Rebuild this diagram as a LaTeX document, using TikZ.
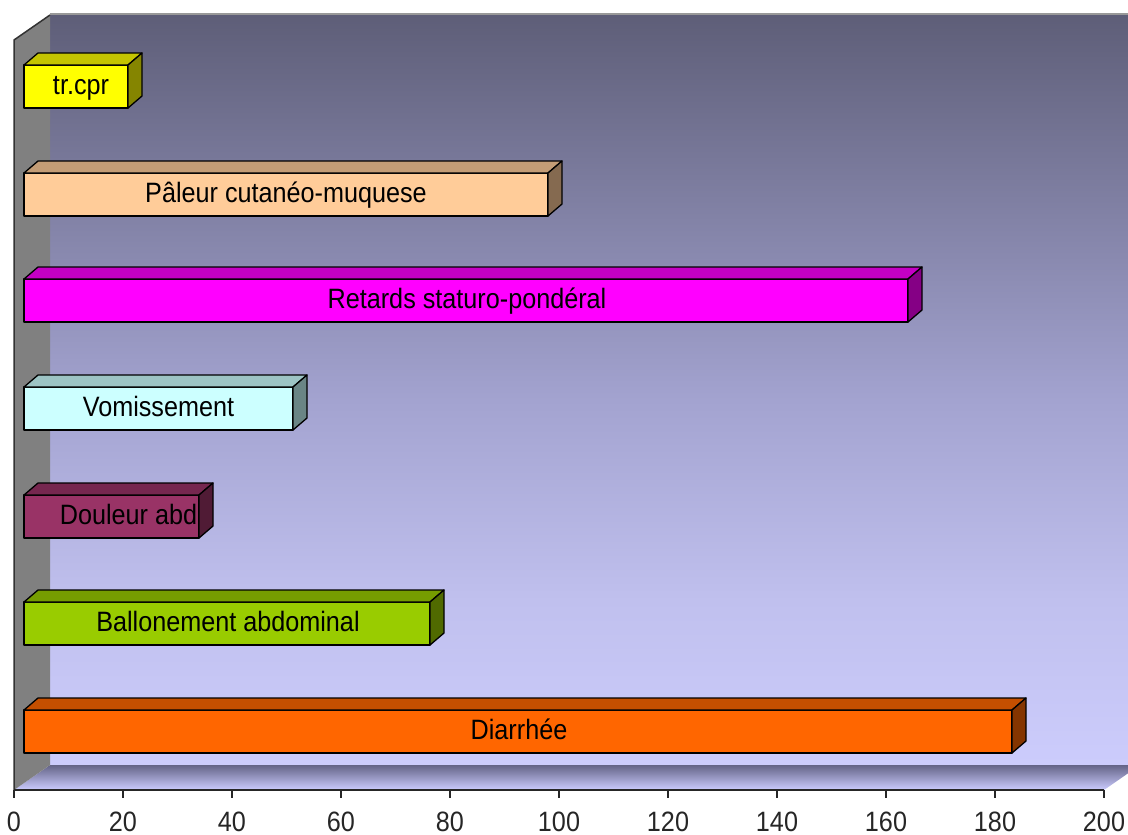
\documentclass[tikz,border=0pt]{standalone}
\usepackage{fontspec}
\setmainfont{Liberation Sans}
\newfontfamily\chartfont[FakeStretch=0.9]{Liberation Sans}
\definecolor{wallTop}{RGB}{94,94,120}
\definecolor{wallA}{RGB}{163,163,208}
\definecolor{wallB}{RGB}{192,192,238}
\definecolor{wallBot}{RGB}{204,204,252}
\definecolor{floorTop}{RGB}{100,100,135}
\definecolor{floorMid}{RGB}{176,176,224}
\definecolor{floorBot}{RGB}{204,204,255}
\definecolor{sideWall}{RGB}{128,128,128}
\definecolor{cTr}{RGB}{255,255,0}
\definecolor{cPal}{RGB}{255,204,153}
\definecolor{cRet}{RGB}{255,0,255}
\definecolor{cVom}{RGB}{204,255,255}
\definecolor{cDou}{RGB}{153,51,102}
\definecolor{cBal}{RGB}{153,204,0}
\definecolor{cDia}{RGB}{255,102,0}
\newcommand{\mybar}[6]{%
  \node[barfront, fill=#4, minimum width={#3-24}] (#1) at (24,#2) {};
  \filldraw[face, fill=#4!77!black] (#1.north west) -- ++(14,-12)
     -- ([shift={(14,-12)}]#1.north east) -- (#1.north east) -- cycle;
  \filldraw[face, fill=#4!52!black] (#1.north east) -- ++(14,-12)
     -- ([shift={(14,-12)}]#1.south east) -- (#1.south east) -- cycle;
  \node[lbl] (#1t) at ([shift={(#6,8)}]#1.center) {#5};
}
\begin{document}
\begin{tikzpicture}[x=1pt,y=-1pt,
  face/.style={draw=black, line width=1.3pt, line join=round},
  barfront/.style={face, rectangle, inner sep=0pt, outer sep=0pt,
     minimum height=43pt, anchor=north west},
  lbl/.style={font=\chartfont\fontsize{28}{32}\selectfont, text=black,
     inner sep=0pt, anchor=base},
  ticklbl/.style={font=\chartfont\fontsize{28}{32}\selectfont, text=black!85,
     inner sep=0pt, anchor=base},
  tick/.style={draw=black!85, line width=1.3pt}]
\useasboundingbox (0,0) rectangle (1128,835);
\begin{scope}
\clip (0,0) rectangle (1128,835);
% back wall
\shade[top color=wallTop, bottom color=wallA] (50,15) rectangle (1140,400.5);
\shade[top color=wallA, bottom color=wallB] (50,400) rectangle (1140,600.5);
\shade[top color=wallB, bottom color=wallBot] (50,600) rectangle (1140,765);
\draw[black!40, line width=1.5pt] (50,14) -- (1140,14);
% floor
\shade[top color=floorTop, middle color=floorMid, bottom color=floorBot]
  (14,790) -- (50,765) -- (1140,765) -- (1104,790) -- cycle;
% left wall
\fill[sideWall] (14,40) -- (50,15) -- (50,765) -- (14,790) -- cycle;
\draw[black!80, line width=1.5pt] (50,15) -- (14,40) -- (14,790);
\end{scope}
% bars
\mybar{b1}{65}{128}{cTr}{tr.cpr}{5}
\mybar{b2}{173}{548}{cPal}{Pâleur cutanéo-muquese}{0}
\mybar{b3}{279}{908}{cRet}{Retards staturo-pondéral}{1}
\mybar{b4}{387}{293}{cVom}{Vomissement}{0}
\mybar{b5}{495}{199}{cDou}{Douleur abd}{17}
\mybar{b6}{602}{430}{cBal}{Ballonement abdominal}{1}
\mybar{b7}{710}{1012}{cDia}{Diarrhée}{1}
% axis
\coordinate (a0) at (14,790);
\coordinate (a1) at (1104,790);
\draw[black!85, line width=1.5pt] (a0) -- (a1);
\foreach \v in {0,20,...,200} {
  \coordinate (t\v) at ({14+5.45*\v},790);
  \draw[tick] (t\v) -- ++(0,8);
  \node[ticklbl] (l\v) at ([shift={(0,41)}]t\v) {\v};
}
\end{tikzpicture}
\end{document}
